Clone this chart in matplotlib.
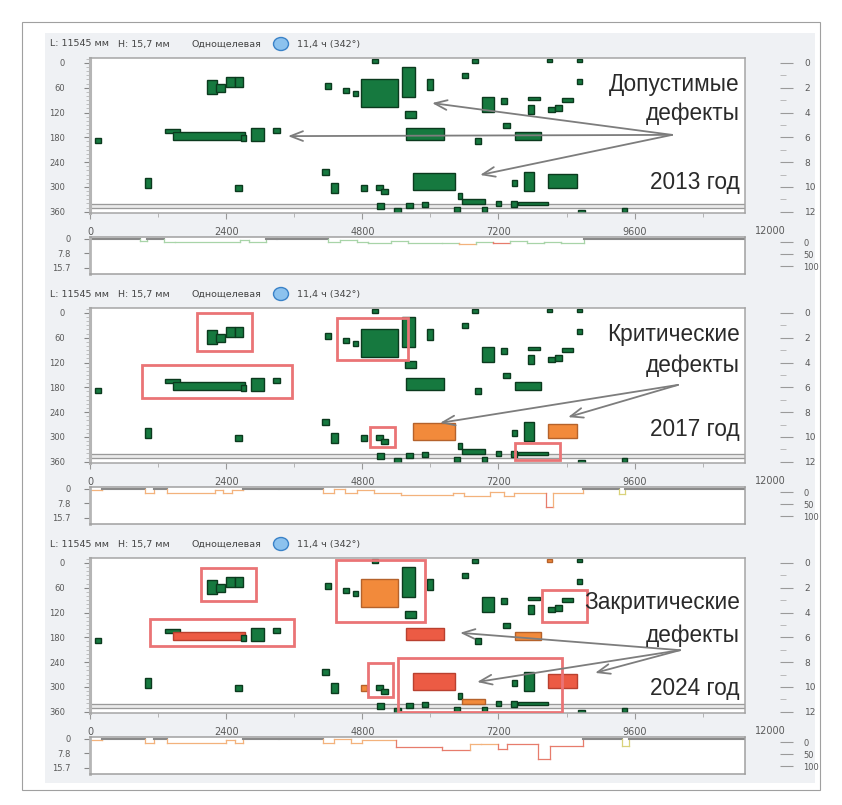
import matplotlib
matplotlib.use('Agg')
import matplotlib.pyplot as plt
from matplotlib.patches import Rectangle, Ellipse
from matplotlib.ticker import MultipleLocator, FixedLocator

plt.rcParams['font.family'] = ['Liberation Sans', 'DejaVu Sans']

# ---------------- data ----------------
YEARS = ['2013 год', '2017 год', '2024 год']
CAPTIONS = [['Допустимые', 'дефекты'], ['Критические', 'дефекты'], ['Закритические', 'дефекты']]
HEADER = ['L: 11545 мм', 'Н: 15,7 мм', 'Однощелевая', '11,4 ч (342°)']

X_TICKS = [0, 2400, 4800, 7200, 9600, 12000]
Y_TICKS = [0, 60, 120, 180, 240, 300, 360]
HOUR_TICKS = [0, 2, 4, 6, 8, 10, 12]
DEPTH_TICKS = [0, 7.8, 15.7]
DEPTH_LABELS = ['0', '7.8', '15.7']
PCT_TICKS = [0, 50, 100]

# defects (start/end along pipe in mm, start/end in angle units)
DEF_X0 = [4970, 2063, 2221, 2398, 2556, 4143, 4460, 4637, 4778, 5500,
          5553, 1322, 1463, 2662, 2838, 3226, 88, 5571, 970, 2556,
          4090, 4249, 4778, 5042, 5130, 5694, 5060, 5360, 5571, 6735,
          8057, 8586, 6558, 5941, 8586, 6911, 7246, 7722, 7722, 8321,
          8075, 8198, 7281, 6788, 7493, 7440, 7651, 8075, 5853, 6417,
          6488, 6558, 6911, 7158, 7422, 7546, 8604, 9379]
DEF_X1 = [5080, 2239, 2380, 2556, 2697, 4249, 4566, 4725, 5430, 5730,
          5747, 1587, 2733, 2750, 3068, 3350, 194, 6241, 1075, 2680,
          4214, 4372, 4884, 5165, 5254, 6435, 5183, 5483, 5694, 6840,
          8145, 8674, 6664, 6047, 8674, 7123, 7352, 7934, 7828, 8515,
          8198, 8321, 7405, 6893, 7951, 7528, 7828, 8586, 5959, 6523,
          6558, 6964, 6999, 7246, 7528, 8075, 8727, 9467]
DEF_Y0 = [-10, 41, 51, 34, 34, 48, 60, 68, 39, 10,
          116, 160, 167, 174, 157, 157, 182, 157, 278, 295,
          256, 290, 295, 295, 305, 266, 339, 351, 339, -10,
          -10, -10, 24, 39, 39, 82, 85, 82, 102, 85,
          106, 102, 145, 182, 167, 283, 264, 269, 336, 348,
          315, 329, 348, 334, 334, 336, 356, 351]
DEF_Y1 = [0, 75, 70, 58, 58, 63, 73, 80, 106, 82,
          133, 169, 186, 189, 189, 169, 194, 186, 302, 310,
          271, 315, 310, 307, 317, 307, 353, 363, 351, 0,
          -2, -2, 36, 65, 51, 119, 99, 90, 123, 94,
          119, 116, 157, 196, 186, 298, 310, 302, 348, 361,
          329, 341, 361, 346, 348, 344, 363, 361]

# defect indices that changed category (1 = critical/orange, 2 = over-critical/red)
CHANGED = [
    {},
    {25: 1, 47: 1},
    {8: 1, 12: 2, 17: 2, 22: 1, 25: 2, 30: 1, 44: 1, 47: 2, 51: 1},
]

# red outline frames per year (x0, x1, y0, y1)
FRAME_X0 = [[], [1886, 917, 4355, 4936, 7493], [1957, 1058, 4337, 4901, 5430, 7969]]
FRAME_X1 = [[], [2856, 3561, 5606, 5377, 8286], [2927, 3597, 5906, 5342, 8321, 8762]]
FRAME_Y0 = [[], [0, 126, 12, 276, 315], [12, 136, -7, 242, 230, 65]]
FRAME_Y1 = [[], [92, 206, 114, 324, 356], [92, 201, 143, 324, 360, 143]]

# arrows: origin and targets (mm, angle)
ARROW_FROM = [(10260, 174), (10366, 174), (10400, 211)]
ARROW_TO = [[(6030, 97), (3490, 177), (6876, 271)],
            [(6170, 266), (8427, 252)],
            [(6523, 169), (6823, 288), (8903, 266)]]

# depth profiles: breakpoints (mm), depth per interval, colour code per interval
PROF_X = [
    [0, 880, 1000, 1300, 1500, 2650, 2800, 3100, 3300, 4200, 4400, 4700, 4900,
     5300, 5600, 6200, 6500, 6800, 7100, 7400, 7700, 8000, 8300, 8700, 11545],
    [0, 210, 970, 1130, 1360, 2200, 2350, 2500, 2700, 3330, 4110, 4300, 4500,
     4700, 5000, 5480, 6400, 6600, 7050, 7300, 7470, 8040, 8160, 8690, 9330, 9430, 11545],
    [0, 210, 970, 1130, 1360, 2400, 2550, 2700, 3330, 4110, 4300, 4600, 4800,
     5400, 6200, 6700, 6900, 7200, 7350, 7900, 8100, 8690, 9380, 9500, 11545],
]
PROF_D = [
    [0, 1.0, 0, 1.5, 1.5, 0.5, 1.5, 0, 0, 1.5, 0.5, 1.5, 2.0, 1.0, 2.5, 2.0,
     3.0, 1.5, 2.5, 1.0, 2.5, 1.5, 2.0, 0],
    [0.5, 0, 2, 0, 2.5, 0.5, 2.5, 0.5, 0, 0, 2, 0.3, 2, 0.5, 2, 3.5, 2.5, 4,
     1.5, 4, 2.5, 10, 2.5, 0, 3, 0],
    [0.5, 0, 2, 0, 2.5, 0.5, 2.5, 0, 0, 2, 0.3, 2, 0.5, 4.5, 6, 3, 3, 5.5, 3,
     11, 4, 0, 4, 0],
]
PROF_C = [
    ['k', 'l', 'k', 'l', 'l', 'l', 'l', 'k', 'k', 'l', 'l', 'l', 'l', 'l', 'l', 'l',
     'o', 'l', 'r', 'l', 'l', 'l', 'l', 'k'],
    ['o', 'k', 'o', 'k', 'o', 'o', 'o', 'o', 'k', 'k', 'o', 'o', 'o', 'o', 'o', 'o',
     'o', 'o', 'o', 'o', 'o', 'r', 'o', 'k', 'y', 'k'],
    ['o', 'k', 'o', 'k', 'o', 'o', 'o', 'k', 'k', 'o', 'o', 'o', 'o', 'r', 'r', 'o',
     'o', 'r', 'r', 'r', 'r', 'k', 'y', 'k'],
]

# ---------------- style ----------------
FACE = ['#16793f', '#f28a3b', '#ec5b44']
EDGE = ['#0b3a1e', '#b5622b', '#b9402f']
PCOL = {'k': '#8a8a8a', 'l': '#a8d4a8', 'o': '#f3b27c', 'r': '#e77c6c', 'y': '#d9d27a'}
TXT = '#5a5a5a'
SMALL = ['DejaVu Sans']

W, H = 842, 805
fig = plt.figure(figsize=(W / 100, H / 100), dpi=100)
fig.patch.set_facecolor('white')


def add_px(l, t, r, b):
    return fig.add_axes([l / W, 1 - b / H, (r - l) / W, (b - t) / H])


def small_labels(axis):
    for lab in axis.get_ticklabels():
        lab.set_fontfamily(SMALL)


fig.add_artist(Rectangle((22 / W, 1 - 790 / H), (820 - 22) / W, (790 - 22) / H,
                         transform=fig.transFigure, fill=False, ec='#a0a0a0', lw=0.8))

for k in range(3):
    off = 250 * k
    # panel background
    fig.add_artist(Rectangle((45 / W, 1 - (283 + off) / H), (815 - 45) / W, 250 / H,
                             transform=fig.transFigure, fc='#eff1f4', ec='none', zorder=0))
    # header
    hy = 1 - (44 + off) / H
    for txt, xp in zip(HEADER, [50, 118, 192, 297]):
        fig.text(xp / W, hy, txt, fontsize=6.8, color='#444444', va='center', ha='left',
                 family=SMALL)
    fig.add_artist(Ellipse((281 / W, hy), 15 / W, 13 / H, transform=fig.transFigure,
                           fc='#8cc2ee', ec='#3a82c8', lw=1.0))

    # ---- main defect map ----
    ax = add_px(90, 58 + off, 745, 213 + off)
    ax.set_facecolor('white')
    ax.set_xlim(0, 11545)
    ax.set_ylim(363, -12)
    ax.axhspan(341, 350, color='#ebebeb', zorder=0.5)
    ax.axhline(341, color='#9a9a9a', lw=0.9, zorder=0.6)
    ax.axhline(350, color='#9a9a9a', lw=0.9, zorder=0.6)

    status = [CHANGED[k].get(i, 0) for i in range(len(DEF_X0))]
    widths = [b - a for a, b in zip(DEF_X0, DEF_X1)]
    heights = [b - a for a, b in zip(DEF_Y0, DEF_Y1)]
    ax.bar(DEF_X0, heights, width=widths, bottom=DEF_Y0, align='edge',
           color=[FACE[s] for s in status], edgecolor=[EDGE[s] for s in status],
           linewidth=1.0, zorder=2)

    if FRAME_X0[k]:
        fw = [b - a for a, b in zip(FRAME_X0[k], FRAME_X1[k])]
        fh = [b - a for a, b in zip(FRAME_Y0[k], FRAME_Y1[k])]
        ax.bar(FRAME_X0[k], fh, width=fw, bottom=FRAME_Y0[k], align='edge',
               fill=False, edgecolor='#ea7476', linewidth=2.0, zorder=3)

    for tgt in ARROW_TO[k]:
        ax.annotate('', xy=tgt, xytext=ARROW_FROM[k],
                    arrowprops=dict(arrowstyle='->,head_length=0.9,head_width=0.35',
                                    color='#7d7d7d', lw=1.3, shrinkA=0, shrinkB=0),
                    zorder=4)

    cap = CAPTIONS[k]
    ys = [(0.826, 0.645, 0.20), (0.826, 0.632, 0.213), (0.71, 0.503, 0.161)][k]
    for txt, yy in zip(cap + [YEARS[k]], ys):
        ax.text(0.992, yy, txt, transform=ax.transAxes, ha='right', va='center',
                fontsize=16.3, color='#2a2a2a', zorder=5)

    for sp in ax.spines.values():
        sp.set_color('#a5a5a5')
        sp.set_linewidth(1.1)
    ax.spines['left'].set_linewidth(2.2)
    ax.spines['left'].set_color('#b5b5b5')
    ax.set_yticks(Y_TICKS)
    ax.set_yticklabels([str(v) for v in Y_TICKS])
    ax.yaxis.set_minor_locator(MultipleLocator(10))
    ax.set_xticks(X_TICKS[:-1])
    ax.set_xticklabels([str(v) for v in X_TICKS[:-1]])
    ax.xaxis.set_minor_locator(MultipleLocator(1200))
    ax.tick_params(axis='y', which='major', length=4, width=0.8, color='#888888',
                   labelsize=6, labelcolor=TXT, pad=14)
    ax.tick_params(axis='y', which='minor', length=3, width=0.5, color='#aaaaaa')
    ax.tick_params(axis='x', which='major', length=4, width=0.8, color='#999999',
                   labelsize=7, labelcolor=TXT, pad=6)
    ax.tick_params(axis='x', which='minor', length=3, width=0.6, color='#aaaaaa')
    small_labels(ax.xaxis)
    small_labels(ax.yaxis)
    ax.text(X_TICKS[-1], -0.115, str(X_TICKS[-1]),
            transform=ax.get_xaxis_transform(), ha='center', va='center',
            fontsize=7, color=TXT, clip_on=False, family=SMALL)

    axr = ax.twinx()
    axr.set_ylim(363 / 30, -12 / 30)
    axr.set_yticks(HOUR_TICKS)
    axr.set_yticklabels([str(v) for v in HOUR_TICKS])
    axr.yaxis.set_minor_locator(FixedLocator([1, 3, 5, 7, 9, 11]))
    for sp in axr.spines.values():
        sp.set_visible(False)
    axr.spines['right'].set_position(('outward', 25))
    axr.tick_params(axis='y', which='major', length=9, width=0.8, color='#9a9a9a',
                    labelsize=6.5, labelcolor=TXT, pad=9)
    axr.tick_params(axis='y', which='minor', length=4, width=0.6, color='#b0b0b0')
    small_labels(axr.yaxis)

    # ---- depth profile ----
    axp = add_px(90, 237 + off, 745, 274 + off)
    axp.set_facecolor('white')
    axp.set_xlim(0, 11545)
    axp.set_ylim(19, -1)
    xs, ds, cs = PROF_X[k], PROF_D[k], PROF_C[k]
    for i in range(len(ds)):
        col = PCOL[cs[i]]
        lw = 1.5 if cs[i] == 'k' else 0.9
        axp.plot([xs[i], xs[i + 1]], [ds[i], ds[i]], color=col, lw=lw)
        if i + 1 < len(ds):
            ncol = PCOL[cs[i + 1]] if cs[i + 1] != 'k' else col
            axp.plot([xs[i + 1], xs[i + 1]], [ds[i], ds[i + 1]], color=ncol, lw=0.9)
    axp.set_xticks([])
    axp.set_yticks(DEPTH_TICKS)
    axp.set_yticklabels(DEPTH_LABELS)
    axp.tick_params(axis='y', length=4, width=0.8, color='#888888', labelsize=6,
                    labelcolor=TXT, pad=10)
    small_labels(axp.yaxis)
    for sp in axp.spines.values():
        sp.set_color('#a0a0a0')
        sp.set_linewidth(1.1)
    axp.spines['left'].set_linewidth(2.0)
    axp.spines['left'].set_color('#b5b5b5')

    axpr = axp.twinx()
    axpr.set_ylim(133, -21)
    axpr.set_yticks(PCT_TICKS)
    axpr.set_yticklabels([str(v) for v in PCT_TICKS])
    for sp in axpr.spines.values():
        sp.set_visible(False)
    axpr.spines['right'].set_position(('outward', 25))
    axpr.tick_params(axis='y', length=9, width=0.8, color='#9a9a9a', labelsize=6,
                     labelcolor=TXT, pad=8)
    small_labels(axpr.yaxis)

fig.savefig('out.png', dpi=100)
